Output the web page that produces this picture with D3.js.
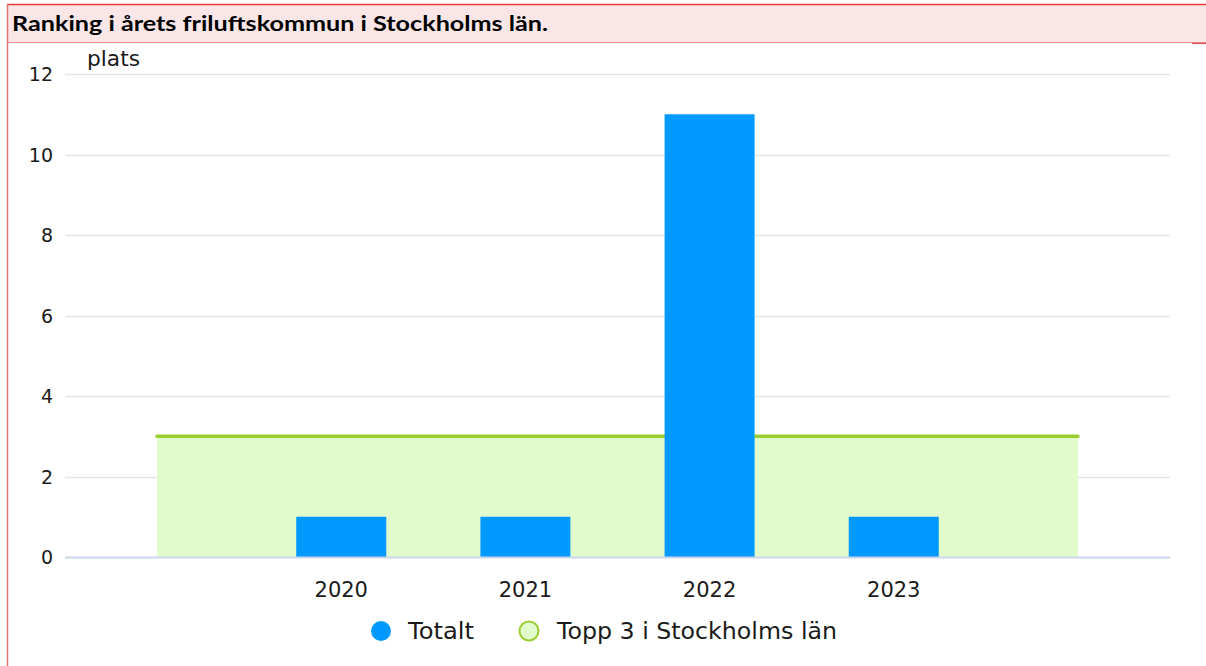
<!DOCTYPE html>
<html><head><meta charset="utf-8">
<script src="https://cdn.jsdelivr.net/npm/d3@7"></script>
<style>html,body{margin:0;padding:0;background:#fff;overflow:hidden}</style>
</head><body>
<svg id="c" width="1206" height="666"></svg>
<script>
const title = "Ranking i årets friluftskommun i Stockholms län.";
const yAxisTitle = "plats";
const categories = ["", "2020", "2021", "2022", "2023", ""];
const totalt = [null, 1, 1, 11, 1, null];
const topp3 = [3, 3, 3, 3, 3, 3];
const yTicks = [0, 2, 4, 6, 8, 10, 12];
const seriesNames = ["Totalt", "Topp 3 i Stockholms län"];

const svg = d3.select("#c");
const font = "'DejaVu Sans', sans-serif";

// frame + title band
svg.append("rect").attr("x",7).attr("y",4).attr("width",1199).attr("height",39).attr("fill","#fae6e6");
svg.append("line").attr("x1",7).attr("x2",1206).attr("y1",4.5).attr("y2",4.5).attr("stroke","#e53935").attr("stroke-width",1.5);
svg.append("line").attr("x1",7).attr("x2",1206).attr("y1",42.5).attr("y2",42.5).attr("stroke","#ef8a8a").attr("stroke-width",1);
svg.append("line").attr("x1",1192).attr("x2",1206).attr("y1",43.5).attr("y2",43.5).attr("stroke","#d0575a").attr("stroke-width",1.2);
svg.append("line").attr("x1",7.5).attr("x2",7.5).attr("y1",4).attr("y2",666).attr("stroke","#e57373").attr("stroke-width",1.5);
svg.append("text").attr("x",12).attr("y",31).text(title)
  .attr("font-family","Lato, 'Open Sans', sans-serif").attr("font-weight","bold").attr("font-size",21.5)
  .attr("fill","#000").attr("textLength",536).attr("lengthAdjust","spacingAndGlyphs");

const x = d3.scaleBand().domain(d3.range(categories.length)).range([65,1170]).padding(0);
const xc = i => x(i) + x.bandwidth()/2;
const y = d3.scaleLinear().domain([0,12]).range([557,74]);

// grid
svg.append("g").selectAll("line").data(yTicks.filter(d=>d>0)).join("line")
  .attr("x1",65).attr("x2",1170).attr("y1",d=>Math.round(y(d))+0.5).attr("y2",d=>Math.round(y(d))+0.5)
  .attr("stroke","#e6e6e6").attr("stroke-width",1.5);

// y labels
svg.append("g").selectAll("text").data(yTicks).join("text")
  .attr("x",53).attr("y",d=>y(d)+7).attr("text-anchor","end")
  .attr("font-family",font).attr("font-size",19).attr("fill","#1a1a1a").text(d=>d);

svg.append("text").attr("x",87).attr("y",66).text(yAxisTitle)
  .attr("font-family",font).attr("font-size",21).attr("fill","#1a1a1a")
  .attr("textLength",53).attr("lengthAdjust","spacingAndGlyphs");

// area + line
const pts = topp3.map((v,i)=>({i,v}));
svg.append("path").datum(pts)
  .attr("d", d3.area().x(d=>xc(d.i)).y0(y(0)).y1(d=>y(d.v)))
  .attr("fill","#e2fbcc");
svg.append("path").datum(pts)
  .attr("d", d3.line().x(d=>xc(d.i)).y(d=>y(d.v)))
  .attr("fill","none").attr("stroke","#9acd32").attr("stroke-width",3.5).attr("stroke-linecap","round");

// bars
const barW = 90;
svg.append("g").selectAll("rect").data(totalt.map((v,i)=>({i,v})).filter(d=>d.v!=null)).join("rect")
  .attr("x",d=>xc(d.i)-barW/2).attr("width",barW)
  .attr("y",d=>y(d.v)).attr("height",d=>y(0)-y(d.v))
  .attr("fill","#0099ff");

// x axis line
svg.append("line").attr("x1",65).attr("x2",1170).attr("y1",557.5).attr("y2",557.5)
  .attr("stroke","#ccd6eb").attr("stroke-width",2);

// x labels
svg.append("g").selectAll("text").data(categories.map((c,i)=>({c,i}))).join("text")
  .attr("x",d=>xc(d.i)).attr("y",597).attr("text-anchor","middle")
  .attr("font-family",font).attr("font-size",21).attr("fill","#1a1a1a").text(d=>d.c);

// legend
const lg = svg.append("g");
lg.append("circle").attr("cx",381).attr("cy",631).attr("r",10).attr("fill","#0099ff");
lg.append("text").attr("x",408).attr("y",639).text(seriesNames[0])
  .attr("font-family",font).attr("font-size",22.5).attr("fill","#1a1a1a")
  .attr("textLength",66).attr("lengthAdjust","spacingAndGlyphs");
lg.append("circle").attr("cx",529).attr("cy",631).attr("r",9.5).attr("fill","#e2fbcc").attr("stroke","#9acd32").attr("stroke-width",2);
lg.append("text").attr("x",557).attr("y",639).text(seriesNames[1])
  .attr("font-family",font).attr("font-size",22.5).attr("fill","#1a1a1a")
  .attr("textLength",280).attr("lengthAdjust","spacingAndGlyphs");
</script>
</body></html>
